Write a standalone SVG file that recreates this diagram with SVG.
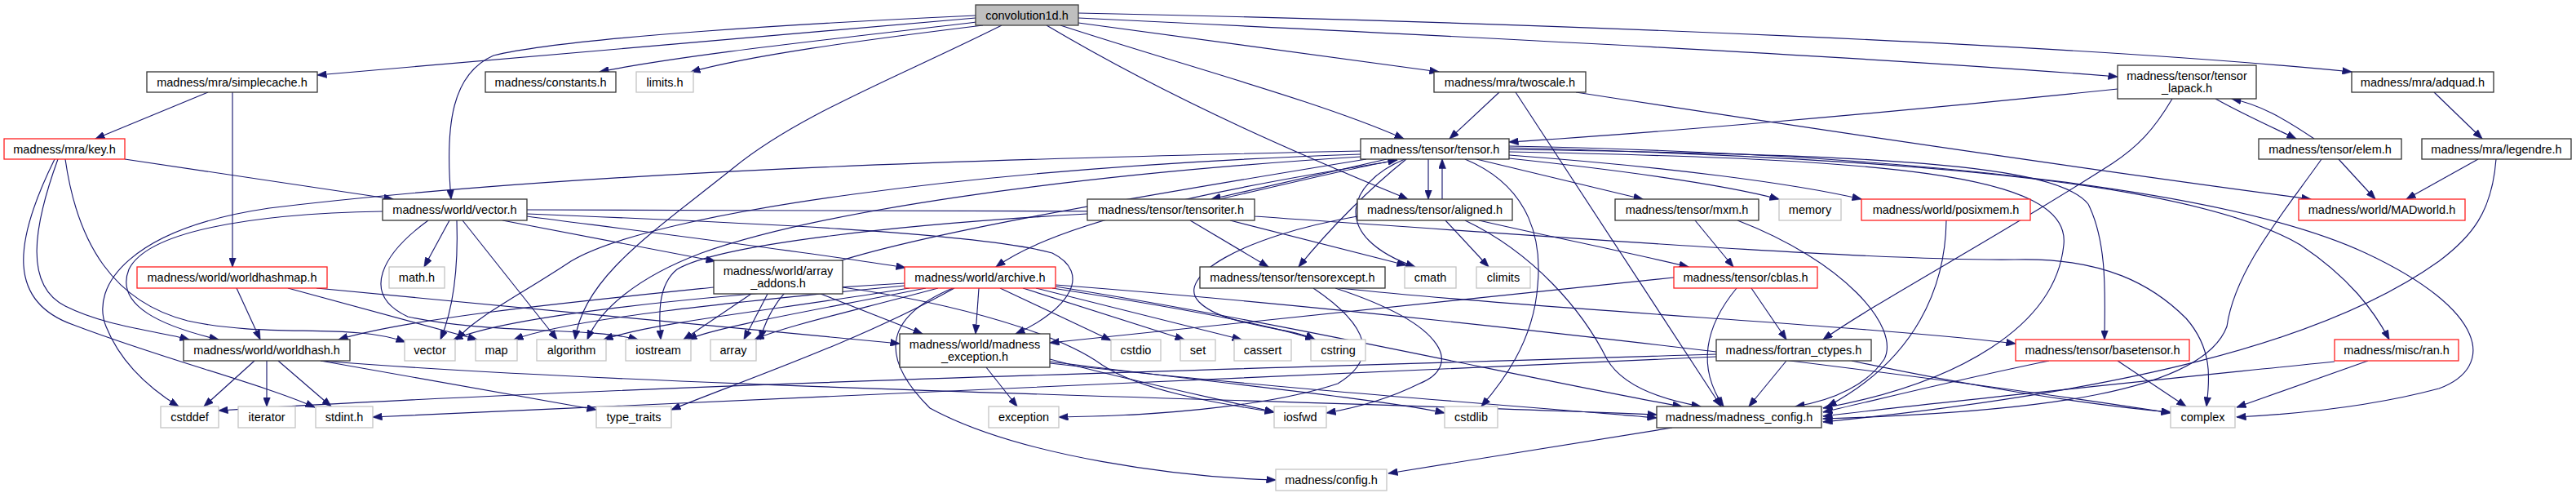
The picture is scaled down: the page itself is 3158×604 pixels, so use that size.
<svg xmlns="http://www.w3.org/2000/svg" width="3158" height="604" viewBox="0 0 3158 604">
<style>
.n rect{fill:#fff;stroke:#333;stroke-width:1.3}
.n.r rect{stroke:#ff2020}
.n.g rect{stroke:#c4c4c4}
.n.root rect{fill:#bfbfbf;stroke:#404040}
text{font-family:"Liberation Sans",Arial,sans-serif;font-size:14.5px;fill:#000;text-anchor:middle}
.e path{fill:none;stroke:#191970;stroke-width:1.15;marker-end:url(#a)}
.e path.h{marker-end:none}
</style>
<defs>
<marker id="a" markerUnits="userSpaceOnUse" markerWidth="12" markerHeight="9" viewBox="0 0 12 9" refX="11.5" refY="4.5" orient="auto">
<path d="M0,0 L12,4.5 L0,9 z" fill="#191970" stroke="#191970" stroke-width="0.5"/>
</marker>
</defs>
<rect width="3158" height="604" fill="#fff"/>
<g id="edges" class="e">
<path d="M1196,22 L389,92"/>
<path d="M1197,27 C1050,45 850,65 735,88"/>
<path d="M1205,31 C1050,50 920,68 847,88"/>
<path d="M1196,19 C1000,28 700,45 605,68 C555,90 545,150 553,244"/>
<path d="M1228,31 C1100,95 980,140 900,205 C800,285 715,340 705,416"/>
<path d="M1300,31 C1450,80 1620,125 1721,170"/>
<path d="M1283,31 C1450,130 1620,200 1726,244"/>
<path d="M1322,28 L1764,88"/>
<path d="M1322,22 C1800,45 2300,70 2596,94"/>
<path d="M1322,16 C1900,28 2550,55 2883,88"/>
<path d="M255,113 L117,170"/>
<path d="M285,113 L285,327"/>
<path d="M153,195 L482,244"/>
<path d="M67,195 C15,300 10,370 90,398 C200,440 320,470 386,499"/>
<path d="M71,195 C40,280 30,350 80,375 C130,400 190,405 232,416"/>
<path d="M80,195 C95,300 140,370 230,393 C330,415 430,395 497,419"/>
<path d="M469,259 C300,262 180,285 158,330 C140,375 200,400 268,416"/>
<path d="M551,270 L520,327"/>
<path d="M560,270 C562,330 555,380 540,416"/>
<path d="M567,270 L683,416"/>
<path d="M525,270 C470,310 440,360 500,388 C600,410 720,400 782,416"/>
<path d="M616,270 L877,320"/>
<path d="M646,265 C800,285 1000,310 1110,328"/>
<path d="M646,262 C900,272 1200,285 1290,310 C1340,335 1310,380 1245,409"/>
<path d="M646,257 C900,258 1200,258 1400,259 C1480,260 1510,262 1538,265 C1900,290 2300,320 2470,318 C2580,315 2640,350 2680,390 C2715,430 2708,470 2705,498"/>
<path d="M290,353 L319,416"/>
<path d="M353,353 L585,416"/>
<path d="M388,353 C600,375 900,400 1103,421"/>
<path d="M312,442 L250,498"/>
<path d="M327,442 L327,498"/>
<path d="M341,442 L406,498"/>
<path d="M393,442 L731,502"/>
<path d="M393,442 C800,475 1600,490 2031,508"/>
<path d="M921,360 L838,416"/>
<path d="M941,360 L912,416"/>
<path d="M1006,360 L1131,409"/>
<path d="M875,352 C700,370 500,390 415,416"/>
<path d="M1033,352 C1180,373 1300,410 1351,447 C1400,480 1500,495 1562,505"/>
<path d="M1200,353 L1196,409"/>
<path d="M1226,353 L1362,417"/>
<path d="M1254,353 L1452,416"/>
<path d="M1270,353 L1522,416"/>
<path d="M1290,353 C1400,370 1550,395 1612,416"/>
<path d="M1294,349 C1700,380 2300,450 2661,506"/>
<path d="M1294,351 C1600,400 1900,470 2062,498"/>
<path d="M1109,350 C900,370 700,390 630,416"/>
<path d="M1109,347 C850,362 620,388 556,416"/>
<path d="M1115,353 C950,380 800,395 740,416"/>
<path d="M1135,353 C1000,380 880,400 843,416"/>
<path d="M1150,353 C1050,380 960,400 925,416"/>
<path d="M1170,353 C1050,420 900,470 823,502"/>
<path d="M1168,353 C1080,390 1080,440 1140,500 C1250,560 1450,585 1564,588"/>
<path d="M1751,195 L1751,244"/>
<path d="M1700,195 L1485,244"/>
<path d="M1724,195 C1680,230 1630,280 1592,327"/>
<path d="M1722,195 C1650,225 1630,290 1735,327"/>
<path d="M1796,195 C1880,230 1890,300 1885,350 C1880,420 1840,470 1816,498"/>
<path d="M1810,195 L2014,244"/>
<path d="M1850,194 C2000,210 2120,228 2181,244"/>
<path d="M1850,190 C2050,205 2200,225 2282,244"/>
<path d="M1850,183 C2300,190 2520,200 2560,250 C2585,300 2580,370 2580,416"/>
<path d="M1850,186 C2300,195 2540,210 2530,300 C2520,400 2400,470 2235,500"/>
<path d="M1850,181 C2400,195 2700,230 2820,300 C2880,340 2910,380 2929,416"/>
<path d="M1850,179 C2400,190 2750,240 2900,310 C3050,380 3060,450 2990,476 C2900,500 2800,508 2742,511"/>
<path d="M1710,197 C1500,230 1300,270 1221,327"/>
<path d="M1668,189 C1200,205 800,260 700,320 C640,360 580,390 560,416"/>
<path d="M1668,192 C1300,215 1000,260 860,310 C780,340 735,380 720,416"/>
<path d="M1675,195 C1400,240 1100,290 1000,330 C960,350 940,385 932,416"/>
<path d="M1668,185 C1200,195 700,210 330,255 C160,280 110,350 130,400 C150,450 190,480 219,498"/>
<path d="M1495,244 C1580,225 1660,205 1713,196"/>
<path d="M1459,270 L1555,327"/>
<path d="M1508,270 L1724,325"/>
<path d="M1333,262 C1100,275 880,300 830,330 C805,350 808,390 810,416"/>
<path d="M1768,244 L1768,195"/>
<path d="M1772,270 L1825,327"/>
<path d="M1813,270 C1900,290 2000,310 2070,327"/>
<path d="M1796,270 C1880,310 1940,380 1970,440 C1990,475 2040,490 2085,498"/>
<path d="M1664,265 C1520,290 1440,340 1470,370 C1500,400 1580,400 1612,416"/>
<path d="M2078,270 L2125,327"/>
<path d="M2130,270 C2260,320 2330,400 2310,440 C2290,470 2250,490 2201,498"/>
<path d="M2129,353 C2090,400 2080,450 2113,498"/>
<path d="M2147,353 L2190,416"/>
<path d="M2052,340 L1287,420"/>
<path d="M2190,442 L2144,498"/>
<path d="M2104,434 C1600,450 800,470 268,503"/>
<path d="M2104,437 C1600,460 900,490 457,511"/>
<path d="M2270,442 C2400,470 2550,495 2661,505"/>
<path d="M2512,442 C2400,465 2300,490 2235,505"/>
<path d="M2596,442 L2680,498"/>
<path d="M2862,443 C2600,470 2400,490 2235,510"/>
<path d="M2903,442 L2742,499"/>
<path d="M2837,170 C2800,145 2770,128 2736,121"/>
<path d="M2867,195 L2912,244"/>
<path d="M2846,195 C2800,260 2740,330 2730,400 C2700,480 2500,505 2235,513"/>
<path d="M3038,195 L2950,244"/>
<path d="M3060,195 C3055,260 3030,290 2990,320 C2850,420 2600,480 2235,517"/>
<path d="M2596,109 C2300,140 2000,165 1850,174"/>
<path d="M2716,121 C2750,140 2790,158 2815,170"/>
<path d="M2663,121 C2640,160 2620,180 2590,200 C2450,290 2300,370 2235,416"/>
<path d="M2984,113 L3043,170"/>
<path d="M1838,113 L1777,170"/>
<path d="M1858,113 L2110,498"/>
<path d="M1932,113 C2300,170 2650,220 2833,244"/>
<path d="M2050,524 L1702,580"/>
<path d="M2386,270 C2385,350 2350,440 2240,498"/>
<path d="M1209,450 L1247,498"/>
<path d="M1287,440 C1400,470 1500,490 1562,505"/>
<path d="M1287,443 C1500,470 1700,490 1771,506"/>
<path d="M1287,445 C1600,480 1900,500 2031,512"/>
<path d="M1610,353 C1680,400 1690,440 1640,470 C1550,500 1400,510 1298,511"/>
<path d="M1637,353 C1780,400 1790,450 1740,470 C1700,490 1660,500 1626,506"/>
<path d="M1642,353 C1900,380 2300,400 2471,421"/>
</g>
<g id="conv" class="n root"><rect x="1196" y="6" width="126" height="25"/><text x="1259" y="23.5">convolution1d.h</text></g>
<g id="simplecache" class="n"><rect x="180" y="88" width="209" height="25"/><text x="284.5" y="105.5">madness/mra/simplecache.h</text></g>
<g id="constants" class="n"><rect x="595" y="88" width="160" height="25"/><text x="675" y="105.5">madness/constants.h</text></g>
<g id="limits" class="n g"><rect x="780" y="88" width="70" height="25"/><text x="815" y="105.5">limits.h</text></g>
<g id="twoscale" class="n"><rect x="1758" y="88" width="186" height="25"/><text x="1851" y="105.5">madness/mra/twoscale.h</text></g>
<g id="tensor_lapack" class="n"><rect x="2596" y="80" width="170" height="41"/><text x="2681" y="98">madness/tensor/tensor</text><text x="2681" y="113">_lapack.h</text></g>
<g id="adquad" class="n"><rect x="2883" y="88" width="174" height="25"/><text x="2970" y="105.5">madness/mra/adquad.h</text></g>
<g id="key" class="n r"><rect x="5" y="170" width="148" height="25"/><text x="79" y="187.5">madness/mra/key.h</text></g>
<g id="tensor" class="n"><rect x="1668" y="170" width="182" height="25"/><text x="1759" y="187.5">madness/tensor/tensor.h</text></g>
<g id="elem" class="n"><rect x="2769" y="170" width="175" height="25"/><text x="2856.5" y="187.5">madness/tensor/elem.h</text></g>
<g id="legendre" class="n"><rect x="2969" y="170" width="183" height="25"/><text x="3060.5" y="187.5">madness/mra/legendre.h</text></g>
<g id="vectorh" class="n"><rect x="469" y="244" width="177" height="26"/><text x="557.5" y="262">madness/world/vector.h</text></g>
<g id="tensoriter" class="n"><rect x="1333" y="244" width="205" height="26"/><text x="1435.5" y="262">madness/tensor/tensoriter.h</text></g>
<g id="aligned" class="n"><rect x="1664" y="244" width="190" height="26"/><text x="1759" y="262">madness/tensor/aligned.h</text></g>
<g id="mxm" class="n"><rect x="1980" y="244" width="176" height="26"/><text x="2068" y="262">madness/tensor/mxm.h</text></g>
<g id="memory" class="n g"><rect x="2181" y="244" width="76" height="26"/><text x="2219" y="262">memory</text></g>
<g id="posixmem" class="n r"><rect x="2282" y="244" width="207" height="26"/><text x="2385.5" y="262">madness/world/posixmem.h</text></g>
<g id="madworld" class="n r"><rect x="2818" y="244" width="204" height="26"/><text x="2920" y="262">madness/world/MADworld.h</text></g>
<g id="worldhashmap" class="n r"><rect x="168" y="327" width="233" height="26"/><text x="284.5" y="345">madness/world/worldhashmap.h</text></g>
<g id="mathh" class="n g"><rect x="477" y="327" width="68" height="26"/><text x="511" y="345">math.h</text></g>
<g id="array_addons" class="n"><rect x="875" y="319" width="158" height="41"/><text x="954" y="337">madness/world/array</text><text x="954" y="352">_addons.h</text></g>
<g id="archive" class="n r"><rect x="1109" y="327" width="185" height="26"/><text x="1201.5" y="345">madness/world/archive.h</text></g>
<g id="tensorexcept" class="n"><rect x="1471" y="327" width="227" height="26"/><text x="1584.5" y="345">madness/tensor/tensorexcept.h</text></g>
<g id="cmath" class="n g"><rect x="1722" y="327" width="63" height="26"/><text x="1753.5" y="345">cmath</text></g>
<g id="climits" class="n g"><rect x="1810" y="327" width="66" height="26"/><text x="1843" y="345">climits</text></g>
<g id="cblas" class="n r"><rect x="2052" y="327" width="176" height="26"/><text x="2140" y="345">madness/tensor/cblas.h</text></g>
<g id="worldhash" class="n"><rect x="225" y="416" width="204" height="26"/><text x="327" y="434">madness/world/worldhash.h</text></g>
<g id="vector" class="n g"><rect x="496" y="416" width="62" height="26"/><text x="527" y="434">vector</text></g>
<g id="map" class="n g"><rect x="583" y="416" width="51" height="26"/><text x="608.5" y="434">map</text></g>
<g id="algorithm" class="n g"><rect x="658" y="416" width="85" height="26"/><text x="700.5" y="434">algorithm</text></g>
<g id="iostream" class="n g"><rect x="767" y="416" width="80" height="26"/><text x="807" y="434">iostream</text></g>
<g id="array" class="n g"><rect x="871" y="416" width="56" height="26"/><text x="899" y="434">array</text></g>
<g id="madexc" class="n"><rect x="1103" y="409" width="184" height="41"/><text x="1195" y="427">madness/world/madness</text><text x="1195" y="442">_exception.h</text></g>
<g id="cstdio" class="n g"><rect x="1362" y="416" width="61" height="26"/><text x="1392.5" y="434">cstdio</text></g>
<g id="set" class="n g"><rect x="1447" y="416" width="43" height="26"/><text x="1468.5" y="434">set</text></g>
<g id="cassert" class="n g"><rect x="1513" y="416" width="70" height="26"/><text x="1548" y="434">cassert</text></g>
<g id="cstring" class="n g"><rect x="1607" y="416" width="67" height="26"/><text x="1640.5" y="434">cstring</text></g>
<g id="fortran" class="n"><rect x="2104" y="416" width="190" height="26"/><text x="2199" y="434">madness/fortran_ctypes.h</text></g>
<g id="basetensor" class="n r"><rect x="2471" y="416" width="213" height="26"/><text x="2577.5" y="434">madness/tensor/basetensor.h</text></g>
<g id="ran" class="n r"><rect x="2862" y="416" width="152" height="26"/><text x="2938" y="434">madness/misc/ran.h</text></g>
<g id="cstddef" class="n g"><rect x="197" y="498" width="71" height="26"/><text x="232.5" y="516">cstddef</text></g>
<g id="iterator" class="n g"><rect x="292" y="498" width="70" height="26"/><text x="327" y="516">iterator</text></g>
<g id="stdint" class="n g"><rect x="387" y="498" width="70" height="26"/><text x="422" y="516">stdint.h</text></g>
<g id="type_traits" class="n g"><rect x="731" y="498" width="92" height="26"/><text x="777" y="516">type_traits</text></g>
<g id="exception" class="n g"><rect x="1212" y="498" width="86" height="26"/><text x="1255" y="516">exception</text></g>
<g id="iosfwd" class="n g"><rect x="1562" y="498" width="64" height="26"/><text x="1594" y="516">iosfwd</text></g>
<g id="cstdlib" class="n g"><rect x="1771" y="498" width="65" height="26"/><text x="1803.5" y="516">cstdlib</text></g>
<g id="madconfig" class="n"><rect x="2031" y="498" width="202" height="26"/><text x="2132" y="516">madness/madness_config.h</text></g>
<g id="complex" class="n g"><rect x="2661" y="498" width="79" height="26"/><text x="2700.5" y="516">complex</text></g>
<g id="config" class="n g"><rect x="1564" y="575" width="136" height="26"/><text x="1632" y="593">madness/config.h</text></g>
</svg>
